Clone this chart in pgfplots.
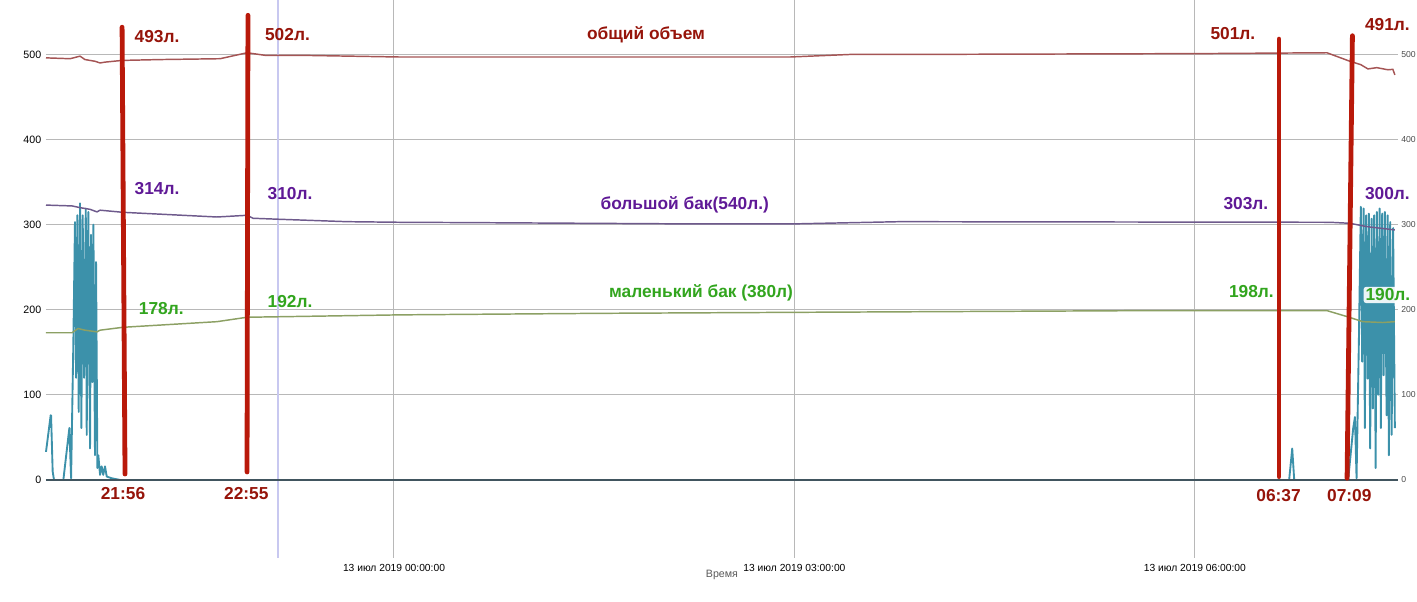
\documentclass[border=0pt]{standalone}
\usepackage{fontspec}
\setmainfont{Liberation Sans}
\usepackage{pgfplots}
\pgfplotsset{compat=1.18}

\definecolor{cTotal}{RGB}{165,85,85}
\definecolor{cBig}{RGB}{110,90,140}
\definecolor{cSmall}{RGB}{140,160,100}
\definecolor{cFlow}{RGB}{60,145,170}
\definecolor{cBase}{RGB}{65,85,95}
\definecolor{cMark}{RGB}{185,25,10}
\definecolor{tRed}{RGB}{150,20,10}
\definecolor{tPurple}{RGB}{95,25,150}
\definecolor{tGreen}{RGB}{50,165,30}
\definecolor{cCursor}{RGB}{200,200,240}

\newcommand{\lab}{\bfseries\fontsize{13}{15}\selectfont}

\begin{document}
\begin{tikzpicture}

% x: hours from 13 Jul 2019 00:00, y: litres
\begin{axis}[
  at={(34.5pt,33pt)}, anchor=south west,
  width=1014pt, height=418.5pt, scale only axis,
  xmin=-2.607, xmax=7.521,
  ymin=-91.7, ymax=564,
  axis line style={draw=none},
  tick style={draw=none},
  xtick={0,3,6},
  xticklabels={13 июл 2019 00:00:00,13 июл 2019 03:00:00,13 июл 2019 06:00:00},
  ytick={0,100,200,300,400,500},
  xmajorgrids, ymajorgrids,
  grid style={draw=black!28, line width=0.75pt},
  xticklabel style={font=\fontsize{7.7}{9}\selectfont, yshift=-1pt},
  yticklabel style={font=\fontsize{8}{9}\selectfont},
  /pgf/number format/assume math mode=true,
  xlabel={Время},
  xlabel style={font=\fontsize{8}{9}\selectfont, text=black!65, yshift=8pt},
  clip=false,
]

% cursor line
\addplot[cCursor, line width=1pt] coordinates {(-0.869,-91.7) (-0.869,564)};

% flow
\addplot[cFlow, line width=1.4pt, line join=round] coordinates {
(-2.607,33) (-2.572,76) (-2.569,76) (-2.557,10) (-2.547,0) (-2.477,0)
(-2.432,61) (-2.419,2) (-2.402,162) (-2.390,303) (-2.382,120) (-2.372,311)
(-2.362,80) (-2.352,325) (-2.342,61) (-2.332,311) (-2.322,120) (-2.309,319)
(-2.302,53) (-2.290,315) (-2.277,37) (-2.270,288) (-2.260,115) (-2.252,300)
(-2.240,29) (-2.232,256) (-2.222,14) (-2.215,29) (-2.202,6) (-2.190,16)
(-2.178,6) (-2.165,16) (-2.152,4) (-2.115,2) (-2.052,0)
(6.706,0) (6.729,37) (6.744,0)
(7.148,0) (7.186,61) (7.199,74) (7.211,2) (7.228,159) (7.243,321)
(7.253,139) (7.264,319) (7.273,61) (7.283,311) (7.294,119) (7.303,313)
(7.313,37) (7.324,307) (7.333,84) (7.343,311) (7.354,14) (7.363,315)
(7.373,100) (7.384,319) (7.393,61) (7.403,313) (7.414,123) (7.423,315)
(7.436,76) (7.444,311) (7.453,29) (7.463,303) (7.474,53) (7.485,296)
(7.498,61)
};

% baseline series
\addplot[cBase, line width=1.1pt] coordinates {(-2.607,0) (7.521,0)};

% total volume
\addplot[cTotal, line width=1.1pt] coordinates {
(-2.607,496) (-2.427,495) (-2.352,498) (-2.315,494) (-2.240,492) (-2.202,490)
(-2.165,491) (-2.037,493) (-1.753,494) (-1.303,495) (-1.101,502) (-0.966,499)
(-0.704,499) (0.045,497) (2.966,497) (3.416,500) (3.790,500) (6.037,501)
(6.989,502) (7.161,492) (7.243,488) (7.296,483) (7.363,484.5) (7.446,482)
(7.483,482.5) (7.498,476)
};

% big tank
\addplot[cBig, line width=1.1pt] coordinates {
(-2.607,323) (-2.412,322) (-2.352,320) (-2.277,318) (-2.225,315) (-2.202,317)
(-2.030,314.5) (-1.326,309) (-1.101,311) (-1.056,307.5) (-0.854,306.3)
(-0.352,303.5) (0.045,302.8) (0.569,302.4) (2.292,300.8) (2.966,300.8)
(3.790,303.5) (6.037,303) (7.011,302.8) (7.161,301.6) (7.288,297.7) (7.498,293.8)
};

% small tank
\addplot[cSmall, line width=1.1pt] coordinates {
(-2.607,173) (-2.412,173) (-2.367,178) (-2.315,176) (-2.225,174) (-2.202,176)
(-2.030,179.4) (-1.326,186) (-1.101,191.2) (0.045,194) (1.543,195.8)
(3.041,197) (5.663,199) (6.989,199) (7.139,192) (7.258,186) (7.408,185)
(7.498,186)
};

% hand-drawn markers
\pgfplotsset{mk/.style={cMark, line width=3.6pt, line cap=round}}
\addplot[mk] coordinates {(-2.037,532) (-2.015,7)};
\addplot[mk] coordinates {(-1.094,546) (-1.101,9.4)};
\addplot[mk] coordinates {(6.630,518) (6.630,3.9)};
\addplot[mk] coordinates {(7.180,522) (7.140,2)};

% annotations
\node[text=tRed, font=\lab] at (axis cs:-1.775,520.6) {493л.};
\node[text=tRed, font=\lab] at (axis cs:-0.798,523.7) {502л.};
\node[text=tRed, font=\lab] at (axis cs:6.285,524.9) {501л.};
\node[text=tRed, font=\lab] at (axis cs:7.442,534.7) {491л.};
\node[text=tRed, font=\lab] at (axis cs:1.888,522.9) {общий объем};

\node[text=tPurple, font=\lab] at (axis cs:-1.775,342.7) {314л.};
\node[text=tPurple, font=\lab] at (axis cs:-0.779,336) {310л.};
\node[text=tPurple, font=\lab] at (axis cs:6.382,325) {303л.};
\node[text=tPurple, font=\lab] at (axis cs:7.442,336.9) {300л.};
\node[text=tPurple, font=\lab] at (axis cs:2.178,323) {большой бак(540л.)};

\node[text=tGreen, font=\lab] at (axis cs:-1.743,201.7) {178л.};
\node[text=tGreen, font=\lab] at (axis cs:-0.779,209.5) {192л.};
\node[text=tGreen, font=\lab, fill=white, inner sep=1.5pt, rounded corners=2pt] at (axis cs:6.423,221.3) {198л.};
\node[text=tGreen, font=\lab, fill=white, fill opacity=0.9, text opacity=1, inner sep=1.5pt, rounded corners=2pt] at (axis cs:7.446,217.4) {190л.};
\node[text=tGreen, font=\lab] at (axis cs:2.300,219.4) {маленький бак (380л)};

\node[text=tRed, font=\lab] at (axis cs:-2.030,-16.5) {21:56};
\node[text=tRed, font=\lab] at (axis cs:-1.106,-16.5) {22:55};
\node[text=tRed, font=\lab] at (axis cs:6.627,-18.4) {06:37};
\node[text=tRed, font=\lab] at (axis cs:7.157,-18.4) {07:09};
\end{axis}

% right-hand tick labels
\begin{axis}[
  at={(34.5pt,33pt)}, anchor=south west,
  width=1014pt, height=418.5pt, scale only axis,
  xmin=-2.607, xmax=7.521,
  ymin=-91.7, ymax=564,
  hide x axis,
  axis line style={draw=none},
  tick style={draw=none},
  ytick={0,100,200,300,400,500},
  yticklabel pos=right,
  yticklabel style={font=\fontsize{6.5}{8}\selectfont, text=black!70, xshift=-1pt},
  /pgf/number format/assume math mode=true,
]
\addplot[draw=none] coordinates {(0,0)};
\end{axis}

\pgfresetboundingbox
\path[use as bounding box] (0,0) rectangle (1062.75pt,451.5pt);
\end{tikzpicture}
\end{document}
